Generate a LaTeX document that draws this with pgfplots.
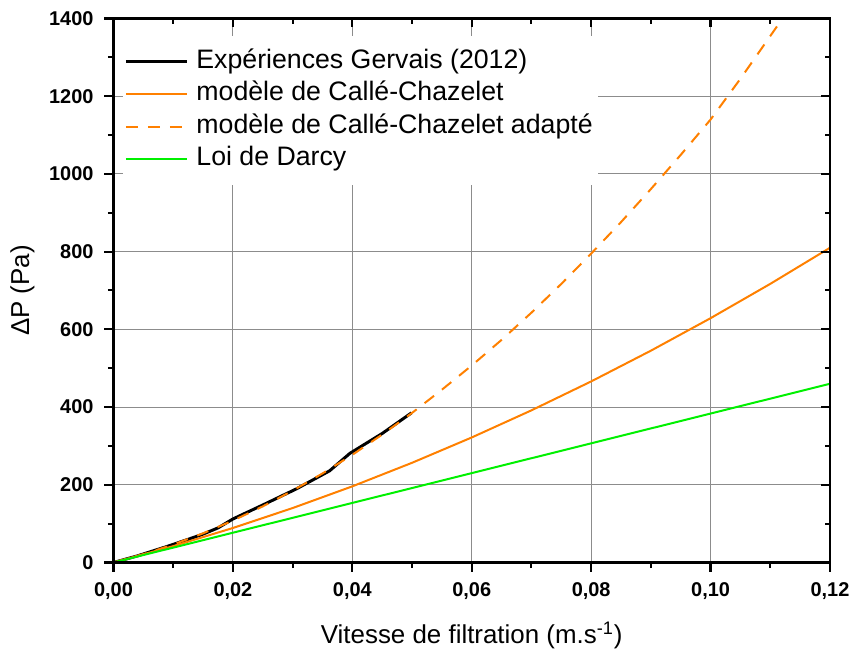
\documentclass[border=0pt]{standalone}
\usepackage{fontspec}
\setmainfont{Liberation Sans}
\usepackage{pgfplots}
\pgfplotsset{compat=1.18}

\definecolor{corange}{RGB}{255,128,0}
\definecolor{cgreen}{RGB}{0,240,0}
\definecolor{cgrid}{RGB}{140,140,140}

% experimental curve (Gervais 2012)
\pgfplotstableread{
x y
0.0000 0
0.0040 17
0.0087 40
0.0120 57
0.0150 73
0.0175 89
0.0200 112
0.0250 148
0.0307 190
0.0362 236
0.0396 281
0.0450 332
0.0499 385
}\gervais

\begin{document}
\begin{tikzpicture}
\pgfplotsset{
  common/.style={
    scale only axis,
    width=358.25bp, height=272bp,
    xmin=0, xmax=0.12, ymin=0, ymax=1400,
    xtick={0,0.02,...,0.12},
    ytick={0,200,...,1400},
    minor tick num=1,
    major tick length=4.5bp,
    minor tick length=2.75bp,
    axis line style={line width=1.2bp},
    every tick/.style={black, line width=1.1bp},
    every minor tick/.style={black, line width=1bp},
  }
}
\begin{axis}[
  common,
  name=ax,
  tick pos=left,
  tick align=outside,
  clip mode=individual,
  grid=major,
  major grid style={cgrid, line width=0.5bp},
  /pgf/number format/assume math mode=true,
  xticklabel style={/pgf/number format/fixed, /pgf/number format/fixed zerofill,
    /pgf/number format/precision=2, /pgf/number format/use comma,
    inner xsep=0bp, yshift=-2.2bp},
  yticklabel style={/pgf/number format/1000 sep={}, xshift=-2bp},
  ticklabel style={font=\fontsize{10}{12}\selectfont\bfseries},
  xlabel={Vitesse de filtration (m.s\textsuperscript{-1})},
  ylabel={ΔP (Pa)},
  label style={font=\fontsize{13}{15}\selectfont, inner sep=1bp},
  xlabel style={at={(axis description cs:0.5,-0.134)}, anchor=center},
  ylabel style={at={(axis description cs:-0.127,0.5)}, anchor=center},
  legend cell align=left,
  legend image code/.code={\draw[#1] (0bp,0bp) -- (30.5bp,0bp); \path (32.5bp,0bp);},
  legend style={
    at={(rel axis cs:0.0133,0.969)}, anchor=north west,
    draw=none, fill=white,
    inner xsep=0.5bp, inner ysep=5bp,
    font=\fontsize{13.4}{15}\selectfont,
    nodes={inner xsep=2bp, inner ysep=1.93bp, text height=9.5bp, text depth=2.8bp},
  },
]

\addplot[black, line width=1.5bp] table {\gervais};
\addlegendentry{Expériences Gervais (2012)}

\addplot[corange, line width=1bp] coordinates {
  (0,0) (0.01,42.1) (0.02,88.8) (0.03,140.1) (0.04,196) (0.05,256.6)
  (0.06,321.8) (0.07,391.6) (0.08,466) (0.09,545.1) (0.10,628.8)
  (0.11,717.1) (0.12,810)
};
\addlegendentry{modèle de Callé-Chazelet}

\addplot[corange, line width=1bp, dash pattern=on 6bp off 5bp] coordinates {
  (0,0) (0.005,21.2) (0.01,46.2) (0.015,75.1) (0.02,107.8) (0.025,144.4)
  (0.03,184.8) (0.035,229.1) (0.04,277.2) (0.045,329.2) (0.05,385)
  (0.055,444.7) (0.06,507) (0.065,573) (0.07,643) (0.075,717)
  (0.08,795) (0.085,876) (0.09,961) (0.095,1049) (0.10,1140)
  (0.105,1245) (0.11,1355) (0.115,1465)
};
\addlegendentry{modèle de Callé-Chazelet adapté}

\addplot[cgreen, line width=1bp] coordinates {
  (0,0) (0.04,153.3) (0.08,306.7) (0.12,460)
};
\addlegendentry{Loi de Darcy}
\end{axis}

% mirrored ticks on top and right
\begin{axis}[
  common,
  tick pos=right,
  tick align=inside,
  xticklabels={}, yticklabels={},
]
\end{axis}

\path ([shift={(-56.75bp,-45.5bp)}]ax.south west) rectangle ([shift={(10bp,9.25bp)}]ax.north east);
\end{tikzpicture}
\end{document}
